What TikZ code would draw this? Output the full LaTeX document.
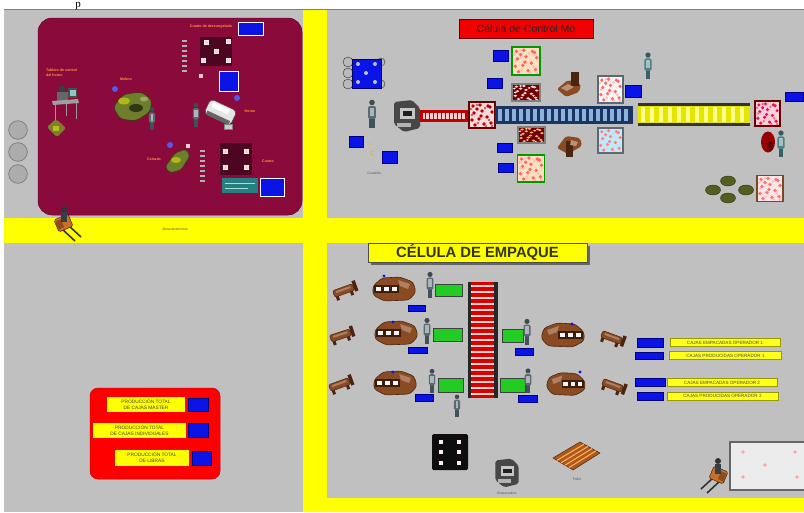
\documentclass[tikz,border=0pt]{standalone}
\usepackage{fontspec}
\setmainfont{Liberation Sans}
\newfontfamily\capserif{Liberation Serif}
\usetikzlibrary{calc}
\definecolor{panelgray}{HTML}{C0C0C0}
\definecolor{yel}{HTML}{FFFF00}
\definecolor{maroonbg}{HTML}{8A0A3C}
\definecolor{cntblue}{HTML}{0A14E6}
\definecolor{orangetxt}{HTML}{FF9A30}
\definecolor{deskbrown}{HTML}{8A4A22}
\definecolor{deskdark}{HTML}{4A2410}
\definecolor{slate}{HTML}{5A6A74}
\definecolor{tealgray}{HTML}{4E8088}
\definecolor{olivegreen}{HTML}{6E7E2A}
\definecolor{greenbox}{HTML}{22CC22}
\definecolor{forkorange}{HTML}{C8702A}
\definecolor{navybelt}{HTML}{1C3560}
\definecolor{slatblue}{HTML}{8CB2E0}
\definecolor{titletext}{HTML}{34340E}
\tikzset{
  bluebox/.style={fill=cntblue, draw=white, line width=0.9},
  plainblue/.style={fill=cntblue, draw=blue!50!black, line width=0.3},
  otext/.style={text=orangetxt, font=\bfseries\fontsize{3.6}{4.2}\selectfont, inner sep=0},
  tinytext/.style={text=black!65, font=\fontsize{3.4}{4}\selectfont, inner sep=0},
  ylabel/.style={fill=yel!90!white, draw=yel!60!black, line width=0.3, inner sep=0,
    minimum height=8, font=\fontsize{4.6}{5}\selectfont, text=black!70},
  prodlabel/.style={fill=yel, inner sep=0, align=center,
    font=\fontsize{4.8}{5.6}\selectfont, text=black!75},
  pics/worker/.style={code={
    \fill[#1!75!black] (-2.6,3) rectangle (-0.4,14);
    \fill[#1!75!black] (0.4,3) rectangle (2.6,14);
    \fill[#1, rounded corners=1.5] (-3.8,-8) rectangle (3.8,5);
    \fill[#1!50!white] (-1.8,-6) rectangle (1.8,2);
    \fill[#1!70!black] (0,-11.5) circle (2.8);
  }},
  pics/desk/.style={code={
    \fill[deskbrown, draw=deskdark, line width=0.6, rounded corners=3]
      (-21,-3) -- (-12,-11) -- (6,-12) -- (19,-7) -- (22,3) -- (15,11) -- (-10,12) -- (-21,6) -- cycle;
    \fill[deskbrown!70!white] (4,-9) -- (16,-5) -- (14,0) -- (6,-3) -- cycle;
    \fill[deskdark!80!black] (-20,-4) rectangle (5,4);
    \foreach \sx in {-15.5,-7.5,0.5} \fill[white!85!pink] (\sx-2.4,-2) rectangle (\sx+2.4,2);
  }},
  pics/cart/.style={code={
    \begin{scope}[rotate=#1]
      \fill[deskbrown, draw=deskdark, line width=0.5, rounded corners=1.5] (-12,-3.5) rectangle (9,3.5);
      \fill[deskbrown!70!white] (-9,-2) rectangle (6,0);
      \fill[deskdark] (9,-6) rectangle (12.5,5);
      \fill[deskdark] (-11,3.5) rectangle (-8,7.5);
      \fill[deskdark] (4,3.5) rectangle (7,7.5);
    \end{scope}
  }},
  pics/speck/.style n args={3}{code={
    \fill[#1] (-13,-13) rectangle (13,13);
    \foreach \px/\py in {-9/-9,-2/-10,6/-9,10/-3,-8/-2,0/-4,5/2,-10/5,-3/4,2/9,9/8,-7/10,-1/1,8/-8,-5/-6}
      \fill[#3] (\px,\py) circle (1.8);
    \foreach \px/\py in {-5/-10,3/-7,-10/0,7/5,-4/8,4/11,10/11,-11/-6}
      \fill[white!55!#3] (\px,\py) circle (1.4);
    \draw[#2, line width=1.4] (-13,-13) rectangle (13,13);
  }},
  pics/printer/.style={code={
    \fill[black!72, rounded corners=2] (-13,-14) -- (5,-16) -- (13,-8) -- (13,12) -- (-3,16) -- (-13,8) -- cycle;
    \fill[gray!45] (-7,-8) rectangle (8,3);
    \fill[black!88] (-4,-5) rectangle (5,0);
    \fill[gray!60] (-10,7) rectangle (4,11);
  }},
  pics/forklift/.style={code={
    \draw[black!80, line width=1.6] (4,3) -- (17,15);
    \draw[black!80, line width=1.6] (-2,7) -- (11,19);
    \fill[forkorange, draw=deskdark, line width=0.5, rounded corners=1.5]
      (-10,-2) -- (4,-8) -- (9,4) -- (-5,10) -- cycle;
    \fill[forkorange!70!black] (-9,0) -- (-3,-3) -- (0,5) -- (-6,8) -- cycle;
    \fill[slate!60!black] (-3,-10) rectangle (3,0);
    \fill[black!80] (0,-13) circle (3);
  }},
}
\begin{document}
\begin{tikzpicture}[x=1pt,y=-1pt]
\useasboundingbox (0,0) rectangle (804,512);
\begin{scope}
\clip (0,0) rectangle (804,512);

% ---------------- sheet, panels and aisles ----------------
\fill[white] (0,0) rectangle (804,512);
\fill[black!50] (4,8.6) rectangle (804,10.4);
\node[font=\capserif\fontsize{11}{11}\selectfont, anchor=base, inner sep=0] (capp) at (78,7) {p};
\fill[panelgray] (4,10.4) rectangle (804,512);
\fill[yel] (303,10.4) rectangle (327,512);
\fill[yel] (4,218) rectangle (804,243);
\fill[yel] (327,498) rectangle (804,512);

% ---------------- preparation cell (top left) ----------------
\fill[maroonbg, draw=maroonbg!80!black, line width=0.5, rounded corners=14] (38,18) rectangle (302,215);

\foreach \cy in {130,152,174}
  \fill[gray!65, draw=black!50, line width=0.8] (18,\cy) circle (9.3);

\node[otext] (tcuarto) at (211,27) {Cuarto de descongelado};
\filldraw[bluebox] (238,22) rectangle (263,35);
\foreach \yy in {40,45,...,70} \fill[gray!60] (182,\yy) rectangle (187,\yy+1.6);
\fill[maroonbg!55!black] (200,37) rectangle (232,66);
\foreach \px/\py in {206/42,228/41,216/51,203/60,228/60}
  \fill[pink!80!white, draw=white!80!pink, line width=0.4] (\px-2.3,\py-2.3) rectangle (\px+2.3,\py+2.3);
\fill[pink!80!white] (198.7,73.7) rectangle (203.3,78.3);
\filldraw[bluebox] (219,71) rectangle (238,91);

\node[otext, align=left, anchor=north west] (ttablero) at (46,69) {Tablero de control\\del horno};
% control desk with operator
\fill[black!70] (68,88) rectangle (77,98);
\fill[teal!45] (69.5,89.5) rectangle (75.5,96);
\fill[slate!60!black] (62,89) circle (3.5);
\fill[black!60] (57,92) rectangle (68,102);
\fill[gray!75] (52,101) -- (78,99) -- (79,103) -- (53,105) -- cycle;
\draw[gray!80, line width=0.8] (55,105) -- (55,122) (76,103) -- (76,119) (66,104) -- (66,116);
\fill[olivegreen!80!brown, rounded corners=2] (47,127) -- (56,119) -- (66,128) -- (57,137) -- cycle;
\fill[olivegreen!50!yellow] (53,126) rectangle (59,131);

% mill
\fill[cntblue!70] (115,89) circle (3);
\node[otext] (tmolino) at (126,79) {Molino};
\fill[olivegreen, draw=olivegreen!45!black, line width=0.6, rounded corners=4]
  (113,107) -- (124,94) -- (142,92) -- (152,100) -- (150,112) -- (136,121) -- (120,119) -- cycle;
\fill[olivegreen!55!yellow] (124,101) ellipse (6 and 3.5);
\fill[olivegreen!45!black] (136,108) ellipse (7 and 4);
\fill[olivegreen!70!white] (144,99) ellipse (4 and 2.5);
\pic at (152,119) [scale=0.82] {worker=slate};

% oven
\pic at (196,115) [scale=0.85] {worker=slate};
\begin{scope}[rotate around={-25:(220,112)}]
  \fill[gray!20, draw=gray!60!black, line width=0.5, rounded corners=4] (206,104) rectangle (235,120);
  \fill[white] (210,106) rectangle (228,111);
  \fill[black!60] (208,116) rectangle (233,120);
\end{scope}
\fill[gray!40, draw=black!50, line width=0.4] (224,124) rectangle (232,129);
\fill[cntblue!70] (237,98) circle (3);
\node[otext] (thorno) at (250,111) {Horno};

% cutting station
\fill[cntblue!70] (170,145) circle (3);
\fill[pink!80!white] (185.7,143.7) rectangle (190.3,148.3);
\fill[olivegreen, draw=olivegreen!45!black, line width=0.5, rounded corners=3]
  (165,167) -- (175,153) -- (186,149) -- (190,156) -- (181,170) -- (170,173) -- cycle;
\fill[olivegreen!55!yellow] (176,160) ellipse (5 and 3);
\node[otext] (tcorte) at (154,159) {Cortado};
\foreach \yy in {150,155,...,180} \fill[gray!60] (200,\yy) rectangle (205,\yy+1.6);
\fill[maroonbg!55!black] (220,143) rectangle (252,175);
\foreach \px/\py in {225/151,246/151,225/167,246/167}
  \fill[pink!80!white, draw=white!80!pink, line width=0.4] (\px-2.3,\py-2.3) rectangle (\px+2.3,\py+2.3);
\node[otext] (tcuarto2) at (268,161) {Cuarto};
\fill[teal!70!gray] (222,178) rectangle (258,193);
\draw[teal!30!white, line width=0.6] (225,183) -- (255,183) (225,188) -- (248,188);
\filldraw[bluebox] (260,178) rectangle (284,196);

% storage aisle
\pic at (64,222) {forklift};
\node[tinytext] (talm) at (175,229) {Almacenamiento};

% ---------------- control cell (top right) ----------------
\node[fill=red!95!black, draw=red!40!black, line width=0.8, minimum width=134, minimum height=19,
  inner sep=0, font=\fontsize{10.5}{12}\selectfont, text=black!85] (tcontrol) at (526,28.5) {Célula de Control Mo};

\foreach \cy in {62,73,84} \fill[gray!55, draw=gray!35!black, line width=0.4] (348,\cy) circle (5);
\foreach \cy in {62,84} \fill[gray!55, draw=gray!35!black, line width=0.4] (381,\cy) circle (4);
\fill[cntblue, draw=blue!40!black, line width=0.5] (352,59) rectangle (381,88);
\foreach \px/\py in {358/64,375/64,366/73,358/82,375/82} \fill[white!75!blue] (\px,\py) circle (2);

\pic at (372,114) {worker=slate};
\pic at (407,116) {printer};

\fill[red!75!black] (420,110) rectangle (468,122);
\fill[pink!75] (423,113) rectangle (466,119);
\foreach \sx in {425,429,...,465} \draw[red!70!black, line width=0.7] (\sx,113) -- (\sx,119);

\pic at (482,115) {speck={pink!60!white}{black!60!red}{red!70!black}};

\fill[navybelt] (495,106) rectangle (633,124);
\foreach \sx in {498,505,...,627} \fill[slatblue] (\sx,109) rectangle (\sx+4,121);

\fill[black!80] (638,103) rectangle (750,106);
\fill[black!80] (638,123) rectangle (750,126);
\fill[yel!90!black] (638,106) rectangle (750,123);
\foreach \sx in {641,650,...,745} \fill[yel!45!white] (\sx,107) rectangle (\sx+4,122);

\pic at (767.5,113.5) [scale=0.96] {speck={pink!70!white}{black!60!red}{magenta!70!red}};
\filldraw[plainblue] (785,92) rectangle (803,101);
\fill[red!60!black] (768,142) ellipse (7 and 10.5);
\fill[red!40!black] (770,146) ellipse (3.5 and 5);
\pic at (781,144) [scale=0.95] {worker=tealgray};
\foreach \px/\py in {728/181,713/190,746/190,728/198}
  \fill[olivegreen!75!black, draw=olivegreen!40!black, line width=0.4] (\px,\py) ellipse (7.5 and 5);
\pic at (770,188.5) {speck={pink!40!white}{brown!60!black}{red!55}};
\pic at (648,66) [scale=0.95] {worker=tealgray};

\pic at (526,61) [scale=1.07] {speck={orange!25!white}{green!60!black}{red!60}};
\pic at (526,92.5) [xscale=1.07, yscale=0.65] {speck={red!45!black}{black!50}{pink!60!white}};
\pic at (531.5,135) [xscale=1.04, yscale=0.62] {speck={red!45!black}{black!50}{orange!60!white}};
\pic at (531,168.5) [scale=1.05] {speck={orange!25!white}{green!60!black}{red!60}};
\filldraw[plainblue] (493,50) rectangle (508,61);
\filldraw[plainblue] (487,78) rectangle (502,88);
\filldraw[plainblue] (497,143) rectangle (512,152);
\filldraw[plainblue] (498,163) rectangle (513,172);

% tables beside the belt
\fill[deskbrown, rounded corners=2] (557,89) -- (568,80) -- (581,84) -- (579,92) -- (566,97) -- cycle;
\fill[deskdark] (571,72) rectangle (579,86);
\fill[deskbrown!60!white] (561,88) -- (568,84) -- (574,87) -- (567,91) -- cycle;
\fill[deskbrown, rounded corners=2] (557,148) -- (566,136) -- (580,138) -- (582,146) -- (568,154) -- cycle;
\fill[deskdark] (566,141) rectangle (573,157);
\fill[deskbrown!60!white] (571,140) -- (578,142) -- (576,146) -- (570,145) -- cycle;

\pic at (610.5,89.5) [xscale=0.96, yscale=1.04] {speck={white!80!pink}{slate}{red!60}};
\filldraw[plainblue] (625,85) rectangle (641,97);
\pic at (610.5,140.5) [scale=0.97] {speck={cyan!25!white}{slate}{red!50}};

\filldraw[plainblue] (349,136) rectangle (363,147);
\filldraw[plainblue] (382,151) rectangle (397,163);
\fill[orange!70!yellow] (370,144) circle (0.9);
\draw[orange!70!yellow, line width=0.6] (374,155) arc (60:300:2.2);
\node[tinytext] (tcuad) at (374,173) {Cuadrilla};

% ---------------- packing cell (bottom right) ----------------
\fill[black!60] (370.5,245.5) rectangle (589.5,264.5);
\node[fill=yel, draw=black!70, line width=0.6, minimum width=219, minimum height=19, inner sep=0,
  font=\bfseries\fontsize{14.8}{15}\selectfont, text=titletext] (tempaque) at (477.5,252.5) {CÉLULA DE EMPAQUE};

% central roller conveyor
\fill[red!85!black] (470,282) rectangle (495,398);
\foreach \yy in {285,291,...,396} \fill[pink!70!white] (471,\yy) rectangle (494,\yy+2);
\fill[black!85] (467.5,282) rectangle (471,398);
\fill[black!85] (494,282) rectangle (497.5,398);

% left packing lines
\pic at (345,290) {cart=20};
\pic at (342,335) {cart=18};
\pic at (341,384) {cart=20};
\pic at (394,289) {desk};
\pic at (396,333) {desk};
\pic at (395,383) {desk};
\foreach \px/\py in {384/276,393/322,393/372} \fill[cntblue] (\px,\py) circle (1.6);
\pic at (430,285) [scale=0.92] {worker=slate};
\pic at (427,331) [scale=0.92] {worker=slate};
\pic at (432,381) [scale=0.85] {worker=slate};
\filldraw[fill=greenbox, draw=black!75, line width=0.8] (435,284) rectangle (462,296);
\filldraw[fill=greenbox, draw=black!75, line width=0.8] (433,328) rectangle (462,341);
\filldraw[fill=greenbox, draw=black!75, line width=0.8] (438,378) rectangle (463,392);
\filldraw[plainblue] (408,305) rectangle (425,311);
\filldraw[plainblue] (408,347) rectangle (427,353);
\filldraw[plainblue] (415,394) rectangle (433,401);

% right packing lines
\filldraw[fill=greenbox, draw=black!75, line width=0.8] (502,329) rectangle (523,342);
\filldraw[fill=greenbox, draw=black!75, line width=0.8] (500,378) rectangle (525,392);
\pic at (527,332) [scale=0.92] {worker=slate};
\pic at (528,381) [scale=0.88] {worker=slate};
\filldraw[plainblue] (515,348) rectangle (533,355);
\filldraw[plainblue] (518,395) rectangle (537,402);
\pic at (563,335) [xscale=-1] {desk};
\pic at (566,384) [xscale=-0.9, yscale=0.95] {desk};
\foreach \px/\py in {572/324,580/372} \fill[cntblue] (\px,\py) circle (1.6);
\pic at (613,338) {cart=-20};
\pic at (614,386) {cart=-20};

% counters
\filldraw[plainblue] (637,338) rectangle (663,347);
\filldraw[plainblue] (635,352) rectangle (663,359);
\filldraw[plainblue] (635,378) rectangle (665,386);
\filldraw[plainblue] (637,392) rectangle (663,400);
\node[ylabel, minimum width=110] (tce1) at (725,342.5) {CAJAS EMPACADAS OPERADOR 1};
\node[ylabel, minimum width=112] (tcp1) at (725.5,355.5) {CAJAS PRODUCIDAS OPERADOR 1};
\node[ylabel, minimum width=110] (tce2) at (722,382.5) {CAJAS EMPACADAS OPERADOR 2};
\node[ylabel, minimum width=111] (tcp2) at (722.5,396) {CAJAS PRODUCIDAS OPERADOR 2};

\pic at (457,406) [scale=0.8] {worker=slate};

% boxes, packer, pallet and storage
\fill[black!95, rounded corners=1.5] (432,434) rectangle (468,470);
\foreach \px/\py in {441/442,459/442,441/452,459/452,441/463,459/463}
  \fill[pink!35!white] (\px-2.2,\py-2) rectangle (\px+2.2,\py+2);
\pic at (507,473) [scale=0.9] {printer};
\node[tinytext] (tempac) at (507,494) {Empacadora};
\fill[deskbrown!70!orange, draw=deskdark, line width=0.5] (553,458) -- (580,442) -- (600,453) -- (573,470) -- cycle;
\foreach \tt in {0.2,0.4,0.6,0.8}
  \draw[orange!60!white, line width=1] ($(553,458)!\tt!(573,470)$) -- ($(580,442)!\tt!(600,453)$);
\node[tinytext] (tpallet) at (577,479) {Pallet};
\fill[gray!15, draw=black!60, line width=1.6] (730,442) rectangle (806,490);
\foreach \px/\py in {743/452,795/452,765/465,743/477,797/477}
  \fill[pink!85!red] (\px,\py) circle (1.8);
\pic at (718,474) [xscale=-1] {forklift};

% ---------------- totals panel (bottom left) ----------------
\fill[red, draw=red!80!black, line width=0.5, rounded corners=8] (90,388) rectangle (220,479);
\node[prodlabel, minimum width=78, minimum height=15] (tprod1) at (146,404.5) {PRODUCCIÓN TOTAL\\DE CAJAS MASTER};
\filldraw[plainblue] (188,398) rectangle (208,411);
\node[prodlabel, minimum width=93, minimum height=15] (tprod2) at (139.5,430.5) {PRODUCCIÓN TOTAL\\DE CAJAS INDIVIDUALES};
\filldraw[plainblue] (188,423) rectangle (208,437);
\node[prodlabel, minimum width=74, minimum height=16] (tprod3) at (152,457.5) {PRODUCCIÓN TOTAL\\DE LIBRAS};
\filldraw[plainblue] (192,451) rectangle (211,465);
\end{scope}
\end{tikzpicture}
\end{document}
